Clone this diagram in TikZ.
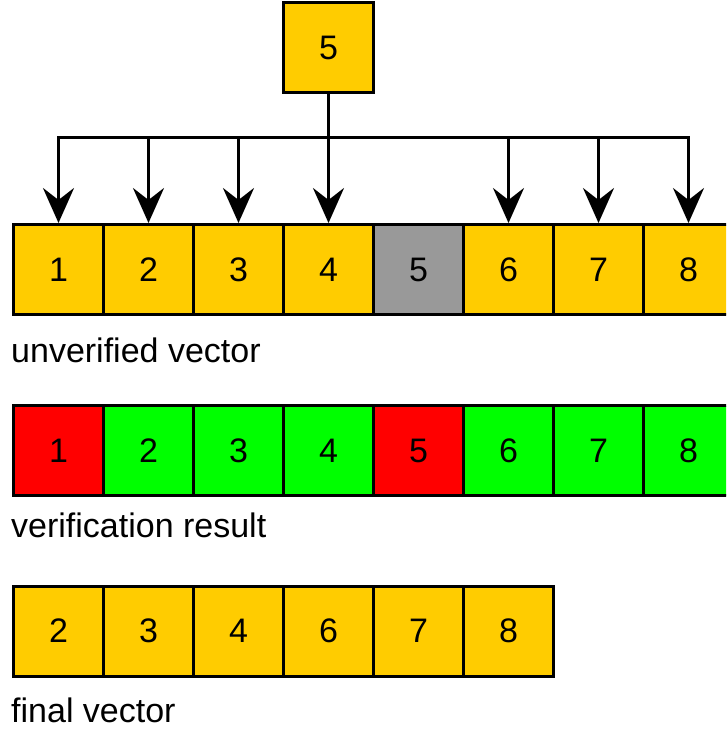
\documentclass[tikz,border=0pt]{standalone}
\usepackage{fontspec}
\setmainfont{Liberation Sans}
\usetikzlibrary{arrows.meta}
\definecolor{cellyellow}{HTML}{FFCC00}
\definecolor{cellgray}{HTML}{999999}
\definecolor{cellred}{HTML}{FF0000}
\definecolor{cellgreen}{HTML}{00FF00}

\begin{document}
\begin{tikzpicture}[x=1pt,y=-1pt]
 \tikzset{cell/.style = {shape=rectangle,draw,line width=3pt,minimum size=90pt,inner sep=0pt,font=\fontsize{34}{40}\selectfont}}
 \tikzset{edge/.style = {-{Stealth[length=35pt,width=31pt,inset=12pt]},line width=3pt}}
 \tikzset{caption/.style = {anchor=base west,inner sep=0pt,font=\fontsize{34}{40}\selectfont}}
 \useasboundingbox (0,0) rectangle (726,731);
 \clip (0,0) rectangle (726,731);

 % picked element
 \node[cell,fill=cellyellow] (t) at (328.5,47.5) {5};
 \coordinate (bus) at (328.5,137.5);

 % unverified vector
 \node[cell,fill=cellyellow] (u1) at (58.5,269.5) {1};
 \node[cell,fill=cellyellow] (u2) at (148.5,269.5) {2};
 \node[cell,fill=cellyellow] (u3) at (238.5,269.5) {3};
 \node[cell,fill=cellyellow] (u4) at (328.5,269.5) {4};
 \node[cell,fill=cellgray] (u5) at (418.5,269.5) {5};
 \node[cell,fill=cellyellow] (u6) at (508.5,269.5) {6};
 \node[cell,fill=cellyellow] (u7) at (598.5,269.5) {7};
 \node[cell,fill=cellyellow] (u8) at (688.5,269.5) {8};
 \node[caption] (ulabel) at (11,362) {unverified vector};

 % verification result
 \node[cell,fill=cellred] (r1) at (58.5,450.5) {1};
 \node[cell,fill=cellgreen] (r2) at (148.5,450.5) {2};
 \node[cell,fill=cellgreen] (r3) at (238.5,450.5) {3};
 \node[cell,fill=cellgreen] (r4) at (328.5,450.5) {4};
 \node[cell,fill=cellred] (r5) at (418.5,450.5) {5};
 \node[cell,fill=cellgreen] (r6) at (508.5,450.5) {6};
 \node[cell,fill=cellgreen] (r7) at (598.5,450.5) {7};
 \node[cell,fill=cellgreen] (r8) at (688.5,450.5) {8};
 \node[caption] (rlabel) at (11,537) {verification result};

 % final vector
 \node[cell,fill=cellyellow] (f1) at (58.5,631) {2};
 \node[cell,fill=cellyellow] (f2) at (148.5,631) {3};
 \node[cell,fill=cellyellow] (f3) at (238.5,631) {4};
 \node[cell,fill=cellyellow] (f4) at (328.5,631) {6};
 \node[cell,fill=cellyellow] (f5) at (418.5,631) {7};
 \node[cell,fill=cellyellow] (f6) at (508.5,631) {8};
 \node[caption] (flabel) at (11,722) {final vector};

 \draw[edge] (t) -- (t |- bus) -| (u1);
 \draw[edge] (t) -- (t |- bus) -| (u2);
 \draw[edge] (t) -- (t |- bus) -| (u3);
 \draw[edge] (t) -- (u4);
 \draw[edge] (t) -- (t |- bus) -| (u6);
 \draw[edge] (t) -- (t |- bus) -| (u7);
 \draw[edge] (t) -- (t |- bus) -| (u8);

\end{tikzpicture}
\end{document}
